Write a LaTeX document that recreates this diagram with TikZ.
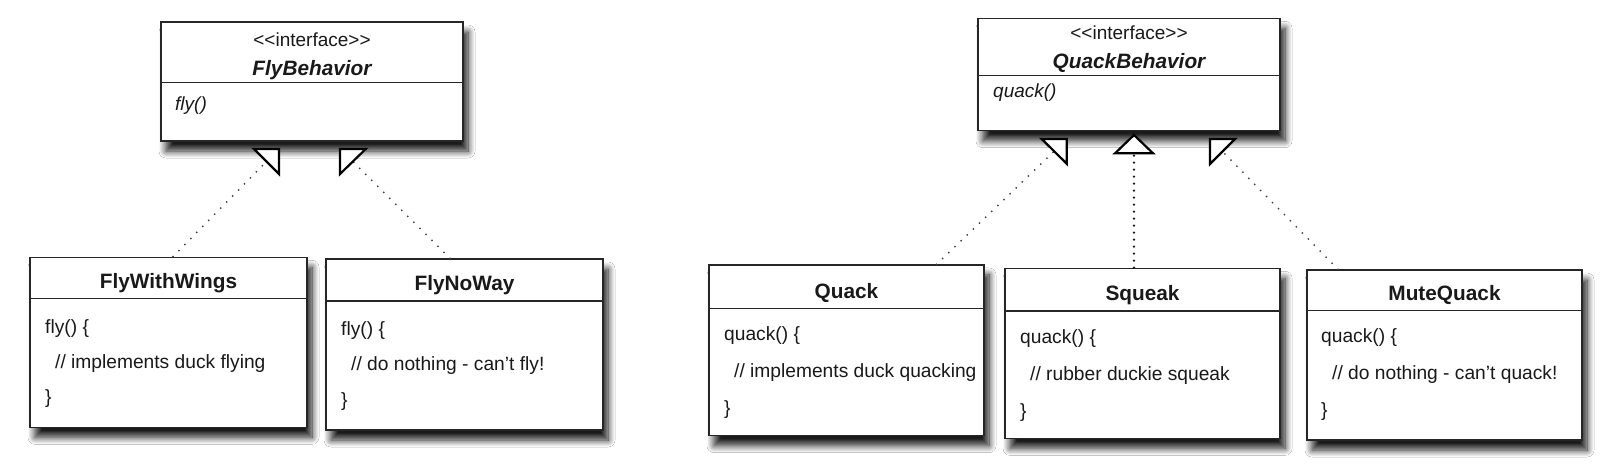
\documentclass[tikz,border=0pt]{standalone}
\usepackage{fontspec}
\setmainfont{Liberation Sans}
\usetikzlibrary{shadows.blur}
\tikzset{
  classbox/.style={draw=black!85, line width=1.3pt, fill=white, rectangle, inner sep=0pt,
    blur shadow={shadow xshift=5pt, shadow yshift=-10pt, shadow blur radius=7pt, shadow blur steps=12, shadow opacity=90}},
  divider/.style={draw=black!85, line width=1.3pt},
  titletext/.style={font=\fontsize{20.8}{24}\selectfont\bfseries, anchor=base, inner sep=0pt, text=black!90},
  ititle/.style={font=\fontsize{20.8}{24}\selectfont\bfseries\itshape, anchor=base, inner sep=0pt, text=black!90},
  stereo/.style={font=\fontsize{19}{22}\selectfont, anchor=base, inner sep=0pt, text=black!90},
  optext/.style={font=\fontsize{19}{22}\selectfont\itshape, anchor=base west, inner sep=0pt, text=black!90},
  bodytext/.style={font=\fontsize{19.2}{22}\selectfont, anchor=base west, inner sep=0pt, text=black!90},
  realize/.style={line width=2pt, draw=black!75, dash pattern=on 0pt off 8.5pt, line cap=round},
  realizedense/.style={line width=2.6pt, draw=black!90, dash pattern=on 0pt off 7pt, line cap=round},
  tri/.style={draw=black, line width=2.2pt, fill=white, line join=miter}
}
\begin{document}
\begin{tikzpicture}[x=1pt,y=-1pt]
\useasboundingbox (0,0) rectangle (1616,469);
\fill[white] (0,0) rectangle (1616,469);

% ---------- boxes ----------
\node[classbox, minimum width=302pt, minimum height=119pt] (fb) at (312,81.5) {};
\node[classbox, minimum width=277pt, minimum height=170pt] (fww) at (168.5,342.3) {};
\node[classbox, minimum width=277pt, minimum height=171pt] (fnw) at (464.5,344.5) {};
\node[classbox, minimum width=302pt, minimum height=112.4pt] (qb) at (1129,74.5) {};
\node[classbox, minimum width=275pt, minimum height=170.7pt] (qk) at (846.5,350.3) {};
\node[classbox, minimum width=275pt, minimum height=170pt] (sq) at (1142.5,353.3) {};
\node[classbox, minimum width=275pt, minimum height=170pt] (mq) at (1444.5,355) {};

% ---------- dividers ----------
\draw[divider] ([yshift=-61pt]fb.north west) -- ([yshift=-61pt]fb.north east);
\draw[divider] ([yshift=-42pt]fww.north west) -- ([yshift=-42pt]fww.north east);
\draw[divider] ([yshift=-42.7pt]fnw.north west) -- ([yshift=-42.7pt]fnw.north east);
\draw[divider] ([yshift=-57.7pt]qb.north west) -- ([yshift=-57.7pt]qb.north east);
\draw[divider] ([yshift=-44pt]qk.north west) -- ([yshift=-44pt]qk.north east);
\draw[divider] ([yshift=-43.4pt]sq.north west) -- ([yshift=-43.4pt]sq.north east);
\draw[divider] ([yshift=-41pt]mq.north west) -- ([yshift=-41pt]mq.north east);

% ---------- FlyBehavior ----------
\node[stereo] (fbs) at (312,46) {<\kern0pt<interface>\kern0pt>};
\node[ititle] (fbt) at (312,75) {FlyBehavior};
\node[optext] (fbo) at (175,110) {fly()};

% ---------- FlyWithWings ----------
\node[titletext] (fwwt) at (168.5,288.3) {FlyWithWings};
\node[bodytext] (fwwa) at (45,333) {fly() \{};
\node[bodytext] (fwwb) at (55,368) {// implements duck flying};
\node[bodytext] (fwwc) at (45,403.5) {\}};

% ---------- FlyNoWay ----------
\node[titletext] (fnwt) at (464.5,290.7) {FlyNoWay};
\node[bodytext] (fnwa) at (341,335.5) {fly() \{};
\node[bodytext] (fnwb) at (351,370.5) {// do nothing - can't fly!};
\node[bodytext] (fnwc) at (341,406) {\}};

% ---------- QuackBehavior ----------
\node[stereo] (qbs) at (1129,39) {<\kern0pt<interface>\kern0pt>};
\node[ititle] (qbt) at (1129,68.5) {QuackBehavior};
\node[optext] (qbo) at (993,97.5) {quack()};

% ---------- Quack ----------
\node[titletext] (qkt) at (846.5,298) {Quack};
\node[bodytext] (qka) at (724,340.5) {quack() \{};
\node[bodytext] (qkb) at (734,377.5) {// implements duck quacking};
\node[bodytext] (qkc) at (724,414.5) {\}};

% ---------- Squeak ----------
\node[titletext] (sqt) at (1142.5,300.7) {Squeak};
\node[bodytext] (sqa) at (1020,343) {quack() \{};
\node[bodytext] (sqb) at (1030,380) {// rubber duckie squeak};
\node[bodytext] (sqc) at (1020,417) {\}};

% ---------- MuteQuack ----------
\node[titletext] (mqt) at (1444.5,300) {MuteQuack};
\node[bodytext] (mqa) at (1321,342.5) {quack() \{};
\node[bodytext] (mqb) at (1332,379.5) {// do nothing - can't quack!};
\node[bodytext] (mqc) at (1321,416.5) {\}};

% ---------- realization triangle bases ----------
\coordinate (fbL) at (266.5,161.5);
\coordinate (fbR) at (352.8,161.5);
\coordinate (qbL) at (1054.2,151.3);
\coordinate (qbM) at (1134,153.3);
\coordinate (qbR) at (1222.5,151.5);

% ---------- realizations ----------
\draw[realize] ([xshift=4.5pt]fww.north) -- (fbL);
\draw[realize] ([xshift=-14.5pt]fnw.north) -- (fbR);
\draw[realize] ([xshift=90pt]qk.north) -- (qbL);
\draw[realizedense] ([xshift=-8.5pt]sq.north) -- (qbM);
\draw[realize] ([xshift=-106.5pt]mq.north) -- (qbR);

% ---------- hollow triangle heads ----------
\draw[tri] (254,149) -- (279,149) -- (279,174) -- cycle;
\draw[tri] (340,149) -- (365.7,149) -- (340,174) -- cycle;
\draw[tri] (1041.7,139) -- (1066.7,139) -- (1066.7,163.7) -- cycle;
\draw[tri] (1134,135) -- (1153,153.3) -- (1115,153.3) -- cycle;
\draw[tri] (1210,139) -- (1235,139) -- (1210,164) -- cycle;
\end{tikzpicture}
\end{document}
